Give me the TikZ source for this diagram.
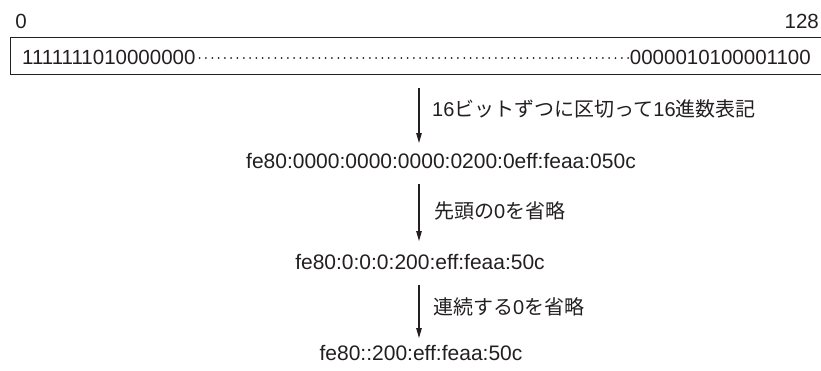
\documentclass[tikz,border=0pt]{standalone}
\usepackage{fontspec}
\setmainfont{Liberation Sans}
\newfontfamily\jp{Noto Sans CJK JP}
\newcommand{\lat}[1]{{\rmfamily #1}}
\usetikzlibrary{arrows.meta}
\definecolor{ink}{HTML}{231F20}
\begin{document}
\begin{tikzpicture}[x=1pt,y=1pt,
  txt/.style={inner sep=0pt, text=ink, font=\fontsize{20.5}{24}\selectfont},
  addr/.style={inner sep=0pt, text=ink, font=\fontsize{21}{24}\selectfont},
  lbl/.style={inner sep=0pt, text=ink, anchor=west, font=\fontsize{20}{24}\selectfont\jp},
  arr/.style={draw=ink, line width=1.1pt, -{Triangle[length=10pt,width=5.5pt]}},
  dots/.style={draw=ink, line width=2pt, line cap=round, dash pattern=on 0pt off 6.3pt}]
\useasboundingbox (0,0) rectangle (821,-370);
% box (right edge lies beyond the page)
\node[draw=ink, line width=1.1pt, minimum width=816pt, minimum height=37pt, inner sep=0pt, anchor=north west] (box) at (10,-37) {};
\node[txt] (zero) at (21,-21.5) {0};
\node[txt, anchor=east] (end) at (819,-21.5) {128};
\node[txt, anchor=west] (bl) at (22,-57) {1111111010000000};
\node[txt, anchor=east] (br) at (811,-57) {0000010100001100};
\draw[dots] ([xshift=4pt,yshift=-1pt]bl.east) -- ([xshift=-1pt,yshift=-1pt]br.west);
% lines
\node[addr] (l1) at (441,-161.5) {fe80:0000:0000:0000:0200:0eff:feaa:050c};
\node[addr] (l2) at (420,-261.5) {fe80:0:0:0:200:eff:feaa:50c};
\node[addr] (l3) at (421,-352.5) {fe80::200:eff:feaa:50c};
% arrows
\coordinate (a1s) at (419,-88);  \coordinate (a1e) at (419,-143);
\coordinate (a2s) at (419,-184); \coordinate (a2e) at (419,-241);
\coordinate (a3s) at (419,-285); \coordinate (a3e) at (419,-338);
\draw[arr] (a1s) -- (a1e);
\draw[arr] (a2s) -- (a2e);
\draw[arr] (a3s) -- (a3e);
\node[lbl] (t1) at (432,-108.5) {\lat{16}ビットずつに区切って\lat{16}進数表記};
\node[lbl] (t2) at (434,-211) {先頭の\lat{0}を省略};
\node[lbl] (t3) at (433,-307) {連続する\lat{0}を省略};
\end{tikzpicture}
\end{document}
